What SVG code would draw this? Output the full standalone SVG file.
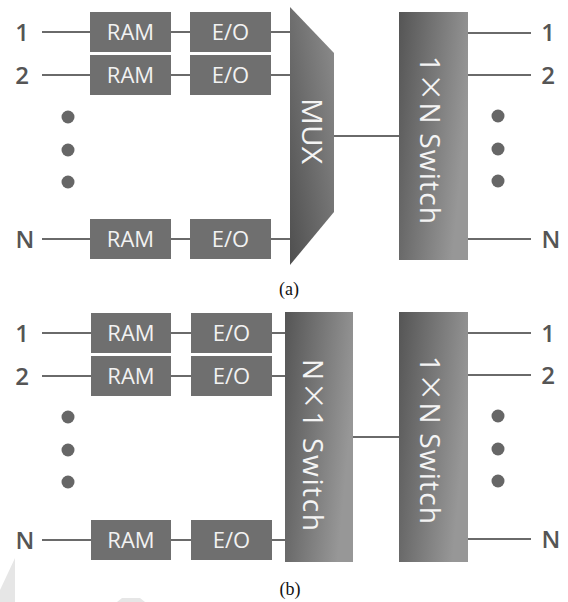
<svg xmlns="http://www.w3.org/2000/svg" width="568" height="602" viewBox="0 0 568 602">
<defs>
<linearGradient id="gsw" x1="0" y1="0" x2="1" y2="0.35">
<stop offset="0" stop-color="#555555"/>
<stop offset="1" stop-color="#979797"/>
</linearGradient>
<linearGradient id="gmux" x1="0" y1="1" x2="1" y2="0">
<stop offset="0" stop-color="#4f4f4f"/>
<stop offset="1" stop-color="#8e8e8e"/>
</linearGradient>
<style>
.box{fill:#6f6f6f;}
.bt{font-family:"Open Sans","Noto Sans",sans-serif;font-size:22px;fill:#f2f2f2;text-anchor:middle;}
.lbl{font-family:"Open Sans","Noto Sans",sans-serif;font-size:24px;font-weight:600;fill:#555555;text-anchor:middle;}
.st{font-family:"Open Sans","Noto Sans",sans-serif;font-size:28px;fill:#f4f4f4;text-anchor:middle;}
.cap{font-family:"Liberation Serif","Times New Roman",serif;font-size:18px;fill:#111111;text-anchor:middle;}
.ln{stroke:#6a6a6a;stroke-width:2;fill:none;}
.dot{fill:#666666;}
</style>
</defs>
<rect width="568" height="602" fill="#ffffff"/>
<polygon points="0,590 15,558 15,602 0,602" fill="#e6e6e6"/>
<polygon points="117,602 122,598 140,598 145,602" fill="#e6e6e6"/>

<g id="connectors">
<line class="ln" x1="42" y1="32" x2="90" y2="32"/>
<line class="ln" x1="171" y1="32" x2="190" y2="32"/>
<line class="ln" x1="271" y1="32" x2="291" y2="32"/>
<line class="ln" x1="42" y1="75" x2="90" y2="75"/>
<line class="ln" x1="171" y1="75" x2="190" y2="75"/>
<line class="ln" x1="271" y1="75" x2="291" y2="75"/>
<line class="ln" x1="42" y1="239" x2="90" y2="239"/>
<line class="ln" x1="171" y1="239" x2="190" y2="239"/>
<line class="ln" x1="271" y1="239" x2="291" y2="239"/>
<line class="ln" x1="334" y1="136" x2="399" y2="136"/>
<line class="ln" x1="468" y1="33" x2="531" y2="33"/>
<line class="ln" x1="468" y1="75" x2="531" y2="75"/>
<line class="ln" x1="468" y1="239" x2="531" y2="239"/>
<line class="ln" x1="42" y1="333" x2="91" y2="333"/>
<line class="ln" x1="171" y1="333" x2="191" y2="333"/>
<line class="ln" x1="272" y1="333" x2="286" y2="333"/>
<line class="ln" x1="42" y1="376" x2="91" y2="376"/>
<line class="ln" x1="171" y1="376" x2="191" y2="376"/>
<line class="ln" x1="272" y1="376" x2="286" y2="376"/>
<line class="ln" x1="42" y1="540" x2="91" y2="540"/>
<line class="ln" x1="171" y1="540" x2="191" y2="540"/>
<line class="ln" x1="272" y1="540" x2="286" y2="540"/>
<line class="ln" x1="353" y1="437" x2="399" y2="437"/>
<line class="ln" x1="468" y1="333" x2="531" y2="333"/>
<line class="ln" x1="468" y1="375" x2="531" y2="375"/>
<line class="ln" x1="468" y1="539" x2="531" y2="539"/>
</g>

<g id="a-in-labels">
<text class="lbl" x="22" y="41">1</text>
<text class="lbl" x="22" y="84">2</text>
<text class="lbl" x="25" y="248">N</text>
</g>
<g id="a-dots-left">
<circle class="dot" cx="68" cy="117" r="6.5"/>
<circle class="dot" cx="68" cy="150" r="6.5"/>
<circle class="dot" cx="68" cy="182" r="6.5"/>
</g>
<g id="a-ram1"><rect class="box" x="90" y="12" width="81" height="40"/><text class="bt" x="130.5" y="40">RAM</text></g>
<g id="a-eo1"><rect class="box" x="190" y="12" width="81" height="40"/><text class="bt" x="230.5" y="40">E/O</text></g>
<g id="a-ram2"><rect class="box" x="90" y="55" width="81" height="40"/><text class="bt" x="130.5" y="83">RAM</text></g>
<g id="a-eo2"><rect class="box" x="190" y="55" width="81" height="40"/><text class="bt" x="230.5" y="83">E/O</text></g>
<g id="a-ramN"><rect class="box" x="90" y="219" width="81" height="40"/><text class="bt" x="130.5" y="247">RAM</text></g>
<g id="a-eoN"><rect class="box" x="190" y="219" width="81" height="40"/><text class="bt" x="230.5" y="247">E/O</text></g>
<g id="a-mux">
<polygon points="290,7 334,53 334,212 290,265" fill="url(#gmux)"/>
<text class="st" transform="translate(302,131) rotate(90)" textLength="66" lengthAdjust="spacingAndGlyphs">MUX</text>
</g>
<g id="a-switch">
<rect x="399" y="12" width="69" height="248" fill="url(#gsw)"/>
<text class="st" transform="translate(420,140) rotate(90)" textLength="168" lengthAdjust="spacing">1<tspan font-family="Noto Sans CJK SC">×</tspan>N Switch</text>
</g>
<g id="a-out-labels">
<text class="lbl" x="548" y="41">1</text>
<text class="lbl" x="548" y="84">2</text>
<text class="lbl" x="551" y="248">N</text>
</g>
<g id="a-dots-right">
<circle class="dot" cx="498" cy="116" r="6.5"/>
<circle class="dot" cx="498" cy="149" r="6.5"/>
<circle class="dot" cx="498" cy="181" r="6.5"/>
</g>
<text class="cap" x="289" y="295">(a)</text>

<g id="b-in-labels">
<text class="lbl" x="22" y="342">1</text>
<text class="lbl" x="22" y="385">2</text>
<text class="lbl" x="25" y="549">N</text>
</g>
<g id="b-dots-left">
<circle class="dot" cx="68" cy="417" r="6.5"/>
<circle class="dot" cx="68" cy="450" r="6.5"/>
<circle class="dot" cx="68" cy="482" r="6.5"/>
</g>
<g id="b-ram1"><rect class="box" x="91" y="313" width="80" height="40"/><text class="bt" x="131" y="341">RAM</text></g>
<g id="b-eo1"><rect class="box" x="191" y="313" width="81" height="40"/><text class="bt" x="231.5" y="341">E/O</text></g>
<g id="b-ram2"><rect class="box" x="91" y="356" width="80" height="40"/><text class="bt" x="131" y="384">RAM</text></g>
<g id="b-eo2"><rect class="box" x="191" y="356" width="81" height="40"/><text class="bt" x="231.5" y="384">E/O</text></g>
<g id="b-ramN"><rect class="box" x="91" y="520" width="80" height="40"/><text class="bt" x="131" y="548">RAM</text></g>
<g id="b-eoN"><rect class="box" x="191" y="520" width="81" height="40"/><text class="bt" x="231.5" y="548">E/O</text></g>
<g id="b-nx1">
<rect x="285" y="312" width="68" height="250" fill="url(#gsw)"/>
<text class="st" transform="translate(303,445) rotate(90)" textLength="172" lengthAdjust="spacing">N<tspan font-family="Noto Sans CJK SC">×</tspan>1 Switch</text>
</g>
<g id="b-switch">
<rect x="399" y="312" width="69" height="250" fill="url(#gsw)"/>
<text class="st" transform="translate(420,440) rotate(90)" textLength="168" lengthAdjust="spacing">1<tspan font-family="Noto Sans CJK SC">×</tspan>N Switch</text>
</g>
<g id="b-out-labels">
<text class="lbl" x="548" y="342">1</text>
<text class="lbl" x="548" y="384">2</text>
<text class="lbl" x="551" y="548">N</text>
</g>
<g id="b-dots-right">
<circle class="dot" cx="498" cy="416" r="6.5"/>
<circle class="dot" cx="498" cy="449" r="6.5"/>
<circle class="dot" cx="498" cy="481" r="6.5"/>
</g>
<text class="cap" x="290" y="595">(b)</text>
</svg>
